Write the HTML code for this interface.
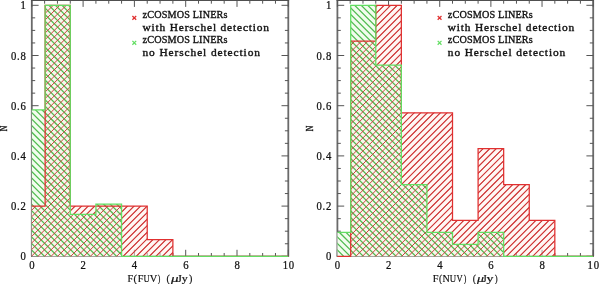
<!DOCTYPE html>
<html><head><meta charset="utf-8"><style>
html,body{margin:0;padding:0;background:#fff;}
svg{display:block;will-change:transform;}
text{font-family:"Liberation Serif",serif;fill:#111;}
.tl{font-size:11.5px;letter-spacing:0.8px;stroke:#111;stroke-width:0.25px;}
.at{font-size:11px;stroke:#111;stroke-width:0.2px;}
.nl{font-size:10.6px;stroke:#111;stroke-width:0.4px;}
.lg{font-size:10.2px;stroke:#111;stroke-width:0.35px;}
</style></head><body>
<svg width="600" height="284" viewBox="0 0 600 284">
<path d="M31.8,0 V256.3 M288.3,0 V256.3" fill="none" stroke="#6a6a6a" stroke-width="1.8"/><path d="M31,0.4 H289.1 M31,256.3 H289.1" fill="none" stroke="#505050" stroke-width="1.1"/>
<path d="M31.8,256.3 v-6.5 M31.8,0.4 v6.5 M44.62,256.3 v-3.3 M44.62,0.4 v3.3 M57.45,256.3 v-3.3 M57.45,0.4 v3.3 M70.27,256.3 v-3.3 M70.27,0.4 v3.3 M83.1,256.3 v-6.5 M83.1,0.4 v6.5 M95.92,256.3 v-3.3 M95.92,0.4 v3.3 M108.75,256.3 v-3.3 M108.75,0.4 v3.3 M121.57,256.3 v-3.3 M121.57,0.4 v3.3 M134.4,256.3 v-6.5 M134.4,0.4 v6.5 M147.22,256.3 v-3.3 M147.22,0.4 v3.3 M160.05,256.3 v-3.3 M160.05,0.4 v3.3 M172.88,256.3 v-3.3 M172.88,0.4 v3.3 M185.7,256.3 v-6.5 M185.7,0.4 v6.5 M198.53,256.3 v-3.3 M198.53,0.4 v3.3 M211.35,256.3 v-3.3 M211.35,0.4 v3.3 M224.18,256.3 v-3.3 M224.18,0.4 v3.3 M237,256.3 v-6.5 M237,0.4 v6.5 M249.82,256.3 v-3.3 M249.82,0.4 v3.3 M262.65,256.3 v-3.3 M262.65,0.4 v3.3 M275.47,256.3 v-3.3 M275.47,0.4 v3.3 M288.3,256.3 v-6.5 M288.3,0.4 v6.5 M31.8,256.3 h6.8 M288.3,256.3 h-6.8 M31.8,243.75 h3.4 M288.3,243.75 h-3.4 M31.8,231.2 h3.4 M288.3,231.2 h-3.4 M31.8,218.65 h3.4 M288.3,218.65 h-3.4 M31.8,206.1 h6.8 M288.3,206.1 h-6.8 M31.8,193.55 h3.4 M288.3,193.55 h-3.4 M31.8,181 h3.4 M288.3,181 h-3.4 M31.8,168.45 h3.4 M288.3,168.45 h-3.4 M31.8,155.9 h6.8 M288.3,155.9 h-6.8 M31.8,143.35 h3.4 M288.3,143.35 h-3.4 M31.8,130.8 h3.4 M288.3,130.8 h-3.4 M31.8,118.25 h3.4 M288.3,118.25 h-3.4 M31.8,105.7 h6.8 M288.3,105.7 h-6.8 M31.8,93.15 h3.4 M288.3,93.15 h-3.4 M31.8,80.6 h3.4 M288.3,80.6 h-3.4 M31.8,68.05 h3.4 M288.3,68.05 h-3.4 M31.8,55.5 h6.8 M288.3,55.5 h-6.8 M31.8,42.95 h3.4 M288.3,42.95 h-3.4 M31.8,30.4 h3.4 M288.3,30.4 h-3.4 M31.8,17.85 h3.4 M288.3,17.85 h-3.4 M31.8,5.3 h6.8 M288.3,5.3 h-6.8" stroke="#555" stroke-width="1" fill="none"/>
<path d="M31.8,256.3 L31.8,109.88 L45.14,109.88 L45.14,5.3 L70.27,5.3 L70.27,214.47 L95.92,214.47 L95.92,204.01 L121.57,204.01 L121.57,256.3 Z" fill="#f2fcee"/>
<path d="M31.8,256.3 L31.8,206.1 L45.14,206.1 L45.14,5.3 L70.27,5.3 L70.27,206.1 L95.92,206.1 L95.92,206.1 L121.57,206.1 L121.57,206.1 L147.22,206.1 L147.22,239.57 L172.88,239.57 L172.88,256.3 Z" fill="#fff0ea" fill-opacity="0.5"/>
<clipPath id="cg0"><path d="M31.8,256.3 L31.8,109.88 L45.14,109.88 L45.14,5.3 L70.27,5.3 L70.27,214.47 L95.92,214.47 L95.92,204.01 L121.57,204.01 L121.57,256.3 Z"/></clipPath>
<clipPath id="cr0"><path d="M31.8,256.3 L31.8,206.1 L45.14,206.1 L45.14,5.3 L70.27,5.3 L70.27,206.1 L95.92,206.1 L95.92,206.1 L121.57,206.1 L121.57,206.1 L147.22,206.1 L147.22,239.57 L172.88,239.57 L172.88,256.3 Z"/></clipPath>
<path clip-path="url(#cg0)" d="M-240.05,-2 L23.95,262 M-233.5,-2 L30.5,262 M-226.95,-2 L37.05,262 M-220.4,-2 L43.6,262 M-213.85,-2 L50.15,262 M-207.3,-2 L56.7,262 M-200.75,-2 L63.25,262 M-194.2,-2 L69.8,262 M-187.65,-2 L76.35,262 M-181.1,-2 L82.9,262 M-174.55,-2 L89.45,262 M-168,-2 L96,262 M-161.45,-2 L102.55,262 M-154.9,-2 L109.1,262 M-148.35,-2 L115.65,262 M-141.8,-2 L122.2,262 M-135.25,-2 L128.75,262 M-128.7,-2 L135.3,262 M-122.15,-2 L141.85,262 M-115.6,-2 L148.4,262 M-109.05,-2 L154.95,262 M-102.5,-2 L161.5,262 M-95.95,-2 L168.05,262 M-89.4,-2 L174.6,262 M-82.85,-2 L181.15,262 M-76.3,-2 L187.7,262 M-69.75,-2 L194.25,262 M-63.2,-2 L200.8,262 M-56.65,-2 L207.35,262 M-50.1,-2 L213.9,262 M-43.55,-2 L220.45,262 M-37,-2 L227,262 M-30.45,-2 L233.55,262 M-23.9,-2 L240.1,262 M-17.35,-2 L246.65,262 M-10.8,-2 L253.2,262 M-4.25,-2 L259.75,262 M2.3,-2 L266.3,262 M8.85,-2 L272.85,262 M15.4,-2 L279.4,262 M21.95,-2 L285.95,262 M28.5,-2 L292.5,262 M35.05,-2 L299.05,262 M41.6,-2 L305.6,262 M48.15,-2 L312.15,262 M54.7,-2 L318.7,262 M61.25,-2 L325.25,262 M67.8,-2 L331.8,262 M74.35,-2 L338.35,262 M80.9,-2 L344.9,262 M87.45,-2 L351.45,262 M94,-2 L358,262 M100.55,-2 L364.55,262 M107.1,-2 L371.1,262 M113.65,-2 L377.65,262 M120.2,-2 L384.2,262 M126.75,-2 L390.75,262 M133.3,-2 L397.3,262 M139.85,-2 L403.85,262 M146.4,-2 L410.4,262 M152.95,-2 L416.95,262 M159.5,-2 L423.5,262 M166.05,-2 L430.05,262 M172.6,-2 L436.6,262 M179.15,-2 L443.15,262 M185.7,-2 L449.7,262 M192.25,-2 L456.25,262 M198.8,-2 L462.8,262 M205.35,-2 L469.35,262 M211.9,-2 L475.9,262 M218.45,-2 L482.45,262 M225,-2 L489,262 M231.55,-2 L495.55,262 M238.1,-2 L502.1,262 M244.65,-2 L508.65,262 M251.2,-2 L515.2,262 M257.75,-2 L521.75,262 M264.3,-2 L528.3,262 M270.85,-2 L534.85,262 M277.4,-2 L541.4,262 M283.95,-2 L547.95,262 M290.5,-2 L554.5,262" stroke="#50bc50" stroke-width="1.25" fill="none"/>
<path clip-path="url(#cr0)" d="M27.75,-2 L-236.25,262 M34.3,-2 L-229.7,262 M40.85,-2 L-223.15,262 M47.4,-2 L-216.6,262 M53.95,-2 L-210.05,262 M60.5,-2 L-203.5,262 M67.05,-2 L-196.95,262 M73.6,-2 L-190.4,262 M80.15,-2 L-183.85,262 M86.7,-2 L-177.3,262 M93.25,-2 L-170.75,262 M99.8,-2 L-164.2,262 M106.35,-2 L-157.65,262 M112.9,-2 L-151.1,262 M119.45,-2 L-144.55,262 M126,-2 L-138,262 M132.55,-2 L-131.45,262 M139.1,-2 L-124.9,262 M145.65,-2 L-118.35,262 M152.2,-2 L-111.8,262 M158.75,-2 L-105.25,262 M165.3,-2 L-98.7,262 M171.85,-2 L-92.15,262 M178.4,-2 L-85.6,262 M184.95,-2 L-79.05,262 M191.5,-2 L-72.5,262 M198.05,-2 L-65.95,262 M204.6,-2 L-59.4,262 M211.15,-2 L-52.85,262 M217.7,-2 L-46.3,262 M224.25,-2 L-39.75,262 M230.8,-2 L-33.2,262 M237.35,-2 L-26.65,262 M243.9,-2 L-20.1,262 M250.45,-2 L-13.55,262 M257,-2 L-7,262 M263.55,-2 L-0.45,262 M270.1,-2 L6.1,262 M276.65,-2 L12.65,262 M283.2,-2 L19.2,262 M289.75,-2 L25.75,262 M296.3,-2 L32.3,262 M302.85,-2 L38.85,262 M309.4,-2 L45.4,262 M315.95,-2 L51.95,262 M322.5,-2 L58.5,262 M329.05,-2 L65.05,262 M335.6,-2 L71.6,262 M342.15,-2 L78.15,262 M348.7,-2 L84.7,262 M355.25,-2 L91.25,262 M361.8,-2 L97.8,262 M368.35,-2 L104.35,262 M374.9,-2 L110.9,262 M381.45,-2 L117.45,262 M388,-2 L124,262 M394.55,-2 L130.55,262 M401.1,-2 L137.1,262 M407.65,-2 L143.65,262 M414.2,-2 L150.2,262 M420.75,-2 L156.75,262 M427.3,-2 L163.3,262 M433.85,-2 L169.85,262 M440.4,-2 L176.4,262 M446.95,-2 L182.95,262 M453.5,-2 L189.5,262 M460.05,-2 L196.05,262 M466.6,-2 L202.6,262 M473.15,-2 L209.15,262 M479.7,-2 L215.7,262 M486.25,-2 L222.25,262 M492.8,-2 L228.8,262 M499.35,-2 L235.35,262 M505.9,-2 L241.9,262 M512.45,-2 L248.45,262 M519,-2 L255,262 M525.55,-2 L261.55,262 M532.1,-2 L268.1,262 M538.65,-2 L274.65,262 M545.2,-2 L281.2,262 M551.75,-2 L287.75,262 M558.3,-2 L294.3,262" stroke="#cc4040" stroke-width="1.0" fill="none"/>
<mask id="mr0" maskUnits="userSpaceOnUse" x="0" y="0" width="600" height="284"><path d="M31.8,256.3 L31.8,206.1 L45.14,206.1 L45.14,5.3 L70.27,5.3 L70.27,206.1 L95.92,206.1 L95.92,206.1 L121.57,206.1 L121.57,206.1 L147.22,206.1 L147.22,239.57 L172.88,239.57 L172.88,256.3 Z" fill="#fff"/><path d="M31.8,256.3 L31.8,109.88 L45.14,109.88 L45.14,5.3 L70.27,5.3 L70.27,214.47 L95.92,214.47 L95.92,204.01 L121.57,204.01 L121.57,256.3 Z" fill="#000"/></mask>
<path mask="url(#mr0)" d="M27.75,-2 L-236.25,262 M34.3,-2 L-229.7,262 M40.85,-2 L-223.15,262 M47.4,-2 L-216.6,262 M53.95,-2 L-210.05,262 M60.5,-2 L-203.5,262 M67.05,-2 L-196.95,262 M73.6,-2 L-190.4,262 M80.15,-2 L-183.85,262 M86.7,-2 L-177.3,262 M93.25,-2 L-170.75,262 M99.8,-2 L-164.2,262 M106.35,-2 L-157.65,262 M112.9,-2 L-151.1,262 M119.45,-2 L-144.55,262 M126,-2 L-138,262 M132.55,-2 L-131.45,262 M139.1,-2 L-124.9,262 M145.65,-2 L-118.35,262 M152.2,-2 L-111.8,262 M158.75,-2 L-105.25,262 M165.3,-2 L-98.7,262 M171.85,-2 L-92.15,262 M178.4,-2 L-85.6,262 M184.95,-2 L-79.05,262 M191.5,-2 L-72.5,262 M198.05,-2 L-65.95,262 M204.6,-2 L-59.4,262 M211.15,-2 L-52.85,262 M217.7,-2 L-46.3,262 M224.25,-2 L-39.75,262 M230.8,-2 L-33.2,262 M237.35,-2 L-26.65,262 M243.9,-2 L-20.1,262 M250.45,-2 L-13.55,262 M257,-2 L-7,262 M263.55,-2 L-0.45,262 M270.1,-2 L6.1,262 M276.65,-2 L12.65,262 M283.2,-2 L19.2,262 M289.75,-2 L25.75,262 M296.3,-2 L32.3,262 M302.85,-2 L38.85,262 M309.4,-2 L45.4,262 M315.95,-2 L51.95,262 M322.5,-2 L58.5,262 M329.05,-2 L65.05,262 M335.6,-2 L71.6,262 M342.15,-2 L78.15,262 M348.7,-2 L84.7,262 M355.25,-2 L91.25,262 M361.8,-2 L97.8,262 M368.35,-2 L104.35,262 M374.9,-2 L110.9,262 M381.45,-2 L117.45,262 M388,-2 L124,262 M394.55,-2 L130.55,262 M401.1,-2 L137.1,262 M407.65,-2 L143.65,262 M414.2,-2 L150.2,262 M420.75,-2 L156.75,262 M427.3,-2 L163.3,262 M433.85,-2 L169.85,262 M440.4,-2 L176.4,262 M446.95,-2 L182.95,262 M453.5,-2 L189.5,262 M460.05,-2 L196.05,262 M466.6,-2 L202.6,262 M473.15,-2 L209.15,262 M479.7,-2 L215.7,262 M486.25,-2 L222.25,262 M492.8,-2 L228.8,262 M499.35,-2 L235.35,262 M505.9,-2 L241.9,262 M512.45,-2 L248.45,262 M519,-2 L255,262 M525.55,-2 L261.55,262 M532.1,-2 L268.1,262 M538.65,-2 L274.65,262 M545.2,-2 L281.2,262 M551.75,-2 L287.75,262 M558.3,-2 L294.3,262" stroke="#d03a3a" stroke-width="1.1" fill="none"/>
<path d="M31.8,206.1 L45.14,206.1 L45.14,5.3 L70.27,5.3 L70.27,206.1 L95.92,206.1 L95.92,206.1 L121.57,206.1 L121.57,206.1 L147.22,206.1 L147.22,239.57 L172.88,239.57 L172.88,256.3 L288.3,256.3" fill="none" stroke="#e03030" stroke-width="1.25"/>
<path d="M31.8,109.88 L45.14,109.88 L45.14,5.3 L70.27,5.3 L70.27,214.47 L95.92,214.47 L95.92,204.01 L121.57,204.01 L121.57,256.3 L288.3,256.3" fill="none" stroke="#62de62" stroke-width="1.25"/>
<text class="tl" transform="translate(32.3,268.7) scale(0.93,1)" text-anchor="middle">0</text>
<text class="tl" transform="translate(83.6,268.7) scale(0.93,1)" text-anchor="middle">2</text>
<text class="tl" transform="translate(134.9,268.7) scale(0.93,1)" text-anchor="middle">4</text>
<text class="tl" transform="translate(186.2,268.7) scale(0.93,1)" text-anchor="middle">6</text>
<text class="tl" transform="translate(237.5,268.7) scale(0.93,1)" text-anchor="middle">8</text>
<text class="tl" transform="translate(288.8,268.7) scale(0.93,1)" text-anchor="middle">10</text>
<text class="tl" transform="translate(26.5,260.4) scale(0.93,1)" text-anchor="end">0</text>
<text class="tl" transform="translate(26.5,210.2) scale(0.93,1)" text-anchor="end">0.2</text>
<text class="tl" transform="translate(26.5,160) scale(0.93,1)" text-anchor="end">0.4</text>
<text class="tl" transform="translate(26.5,109.8) scale(0.93,1)" text-anchor="end">0.6</text>
<text class="tl" transform="translate(26.5,59.6) scale(0.93,1)" text-anchor="end">0.8</text>
<text class="tl" transform="translate(26.5,9.4) scale(0.93,1)" text-anchor="end">1</text>
<text class="at" transform="translate(127.60,281.8) scale(0.926,1)">F</text>
<text class="at" transform="translate(133.54,281.8) scale(0.955,1)">(</text>
<text class="at" transform="translate(137.80,281.8) scale(0.926,1)">F</text>
<text class="at" transform="translate(143.52,281.8) scale(0.775,1)">U</text>
<text class="at" transform="translate(149.69,281.8) scale(0.948,1)">V</text>
<text class="at" transform="translate(157.75,281.8) scale(0.707,1)">)</text>
<text class="at" transform="translate(166.55,281.8) scale(0.920,1)">(</text>
<text class="at" font-style="italic" transform="translate(171.11,281.8) scale(1.354,1)">μ</text>
<text class="at" transform="translate(177.25,281.8) scale(1.074,1)">J</text>
<text class="at" transform="translate(181.76,281.8) scale(1.089,1)">y</text>
<text class="at" transform="translate(188.88,281.8) scale(0.920,1)">)</text>
<text class="nl" transform="translate(7,128.4) rotate(-90) scale(0.72,1)" text-anchor="middle">N</text>
<text class="lg" transform="translate(142.5,18.3) scale(1.0,1)" textLength="85.00" lengthAdjust="spacing">zCOSMOS LINERs</text>
<text class="lg" transform="translate(142.5,30.6) scale(1.12,1)" textLength="112.95" lengthAdjust="spacing">with Herschel detection</text>
<text class="lg" transform="translate(142.5,43.4) scale(1.0,1)" textLength="85.00" lengthAdjust="spacing">zCOSMOS LINERs</text>
<text class="lg" transform="translate(142.5,56.0) scale(1.12,1)" textLength="104.91" lengthAdjust="spacing">no Herschel detection</text>
<path d="M132.4,16 l3.8,3.8 m0,-3.8 l-3.8,3.8" stroke="#e03030" stroke-width="1.25"/>
<path d="M132.4,40.9 l3.8,3.8 m0,-3.8 l-3.8,3.8" stroke="#62de62" stroke-width="1.25"/>
<path d="M337.4,0 V256.3 M593.2,0 V256.3" fill="none" stroke="#6a6a6a" stroke-width="1.8"/><path d="M336.6,0.4 H594 M336.6,256.3 H594" fill="none" stroke="#505050" stroke-width="1.1"/>
<path d="M337.4,256.3 v-6.5 M337.4,0.4 v6.5 M350.19,256.3 v-3.3 M350.19,0.4 v3.3 M362.98,256.3 v-3.3 M362.98,0.4 v3.3 M375.77,256.3 v-3.3 M375.77,0.4 v3.3 M388.56,256.3 v-6.5 M388.56,0.4 v6.5 M401.35,256.3 v-3.3 M401.35,0.4 v3.3 M414.14,256.3 v-3.3 M414.14,0.4 v3.3 M426.93,256.3 v-3.3 M426.93,0.4 v3.3 M439.72,256.3 v-6.5 M439.72,0.4 v6.5 M452.51,256.3 v-3.3 M452.51,0.4 v3.3 M465.3,256.3 v-3.3 M465.3,0.4 v3.3 M478.09,256.3 v-3.3 M478.09,0.4 v3.3 M490.88,256.3 v-6.5 M490.88,0.4 v6.5 M503.67,256.3 v-3.3 M503.67,0.4 v3.3 M516.46,256.3 v-3.3 M516.46,0.4 v3.3 M529.25,256.3 v-3.3 M529.25,0.4 v3.3 M542.04,256.3 v-6.5 M542.04,0.4 v6.5 M554.83,256.3 v-3.3 M554.83,0.4 v3.3 M567.62,256.3 v-3.3 M567.62,0.4 v3.3 M580.41,256.3 v-3.3 M580.41,0.4 v3.3 M593.2,256.3 v-6.5 M593.2,0.4 v6.5 M337.4,256.3 h6.8 M593.2,256.3 h-6.8 M337.4,243.75 h3.4 M593.2,243.75 h-3.4 M337.4,231.2 h3.4 M593.2,231.2 h-3.4 M337.4,218.65 h3.4 M593.2,218.65 h-3.4 M337.4,206.1 h6.8 M593.2,206.1 h-6.8 M337.4,193.55 h3.4 M593.2,193.55 h-3.4 M337.4,181 h3.4 M593.2,181 h-3.4 M337.4,168.45 h3.4 M593.2,168.45 h-3.4 M337.4,155.9 h6.8 M593.2,155.9 h-6.8 M337.4,143.35 h3.4 M593.2,143.35 h-3.4 M337.4,130.8 h3.4 M593.2,130.8 h-3.4 M337.4,118.25 h3.4 M593.2,118.25 h-3.4 M337.4,105.7 h6.8 M593.2,105.7 h-6.8 M337.4,93.15 h3.4 M593.2,93.15 h-3.4 M337.4,80.6 h3.4 M593.2,80.6 h-3.4 M337.4,68.05 h3.4 M593.2,68.05 h-3.4 M337.4,55.5 h6.8 M593.2,55.5 h-6.8 M337.4,42.95 h3.4 M593.2,42.95 h-3.4 M337.4,30.4 h3.4 M593.2,30.4 h-3.4 M337.4,17.85 h3.4 M593.2,17.85 h-3.4 M337.4,5.3 h6.8 M593.2,5.3 h-6.8" stroke="#555" stroke-width="1" fill="none"/>
<path d="M337.4,256.3 L337.4,232.4 L350.7,232.4 L350.7,5.3 L375.77,5.3 L375.77,65.06 L401.35,65.06 L401.35,184.59 L426.93,184.59 L426.93,232.4 L452.51,232.4 L452.51,244.35 L478.09,244.35 L478.09,232.4 L503.67,232.4 L503.67,256.3 Z" fill="#f2fcee"/>
<path d="M337.4,256.3 L337.4,256.3 L350.7,256.3 L350.7,41.16 L375.77,41.16 L375.77,5.3 L401.35,5.3 L401.35,112.87 L426.93,112.87 L426.93,112.87 L452.51,112.87 L452.51,220.44 L478.09,220.44 L478.09,148.73 L503.67,148.73 L503.67,184.59 L529.25,184.59 L529.25,220.44 L554.83,220.44 L554.83,256.3 Z" fill="#fff0ea" fill-opacity="0.5"/>
<clipPath id="cg1"><path d="M337.4,256.3 L337.4,232.4 L350.7,232.4 L350.7,5.3 L375.77,5.3 L375.77,65.06 L401.35,65.06 L401.35,184.59 L426.93,184.59 L426.93,232.4 L452.51,232.4 L452.51,244.35 L478.09,244.35 L478.09,232.4 L503.67,232.4 L503.67,256.3 Z"/></clipPath>
<clipPath id="cr1"><path d="M337.4,256.3 L337.4,256.3 L350.7,256.3 L350.7,41.16 L375.77,41.16 L375.77,5.3 L401.35,5.3 L401.35,112.87 L426.93,112.87 L426.93,112.87 L452.51,112.87 L452.51,220.44 L478.09,220.44 L478.09,148.73 L503.67,148.73 L503.67,184.59 L529.25,184.59 L529.25,220.44 L554.83,220.44 L554.83,256.3 Z"/></clipPath>
<path clip-path="url(#cg1)" d="M65.7,-2 L329.7,262 M72.25,-2 L336.25,262 M78.8,-2 L342.8,262 M85.35,-2 L349.35,262 M91.9,-2 L355.9,262 M98.45,-2 L362.45,262 M105,-2 L369,262 M111.55,-2 L375.55,262 M118.1,-2 L382.1,262 M124.65,-2 L388.65,262 M131.2,-2 L395.2,262 M137.75,-2 L401.75,262 M144.3,-2 L408.3,262 M150.85,-2 L414.85,262 M157.4,-2 L421.4,262 M163.95,-2 L427.95,262 M170.5,-2 L434.5,262 M177.05,-2 L441.05,262 M183.6,-2 L447.6,262 M190.15,-2 L454.15,262 M196.7,-2 L460.7,262 M203.25,-2 L467.25,262 M209.8,-2 L473.8,262 M216.35,-2 L480.35,262 M222.9,-2 L486.9,262 M229.45,-2 L493.45,262 M236,-2 L500,262 M242.55,-2 L506.55,262 M249.1,-2 L513.1,262 M255.65,-2 L519.65,262 M262.2,-2 L526.2,262 M268.75,-2 L532.75,262 M275.3,-2 L539.3,262 M281.85,-2 L545.85,262 M288.4,-2 L552.4,262 M294.95,-2 L558.95,262 M301.5,-2 L565.5,262 M308.05,-2 L572.05,262 M314.6,-2 L578.6,262 M321.15,-2 L585.15,262 M327.7,-2 L591.7,262 M334.25,-2 L598.25,262 M340.8,-2 L604.8,262 M347.35,-2 L611.35,262 M353.9,-2 L617.9,262 M360.45,-2 L624.45,262 M367,-2 L631,262 M373.55,-2 L637.55,262 M380.1,-2 L644.1,262 M386.65,-2 L650.65,262 M393.2,-2 L657.2,262 M399.75,-2 L663.75,262 M406.3,-2 L670.3,262 M412.85,-2 L676.85,262 M419.4,-2 L683.4,262 M425.95,-2 L689.95,262 M432.5,-2 L696.5,262 M439.05,-2 L703.05,262 M445.6,-2 L709.6,262 M452.15,-2 L716.15,262 M458.7,-2 L722.7,262 M465.25,-2 L729.25,262 M471.8,-2 L735.8,262 M478.35,-2 L742.35,262 M484.9,-2 L748.9,262 M491.45,-2 L755.45,262 M498,-2 L762,262 M504.55,-2 L768.55,262 M511.1,-2 L775.1,262 M517.65,-2 L781.65,262 M524.2,-2 L788.2,262 M530.75,-2 L794.75,262 M537.3,-2 L801.3,262 M543.85,-2 L807.85,262 M550.4,-2 L814.4,262 M556.95,-2 L820.95,262 M563.5,-2 L827.5,262 M570.05,-2 L834.05,262 M576.6,-2 L840.6,262 M583.15,-2 L847.15,262 M589.7,-2 L853.7,262 M596.25,-2 L860.25,262" stroke="#50bc50" stroke-width="1.25" fill="none"/>
<path clip-path="url(#cr1)" d="M332.5,-2 L68.5,262 M339.05,-2 L75.05,262 M345.6,-2 L81.6,262 M352.15,-2 L88.15,262 M358.7,-2 L94.7,262 M365.25,-2 L101.25,262 M371.8,-2 L107.8,262 M378.35,-2 L114.35,262 M384.9,-2 L120.9,262 M391.45,-2 L127.45,262 M398,-2 L134,262 M404.55,-2 L140.55,262 M411.1,-2 L147.1,262 M417.65,-2 L153.65,262 M424.2,-2 L160.2,262 M430.75,-2 L166.75,262 M437.3,-2 L173.3,262 M443.85,-2 L179.85,262 M450.4,-2 L186.4,262 M456.95,-2 L192.95,262 M463.5,-2 L199.5,262 M470.05,-2 L206.05,262 M476.6,-2 L212.6,262 M483.15,-2 L219.15,262 M489.7,-2 L225.7,262 M496.25,-2 L232.25,262 M502.8,-2 L238.8,262 M509.35,-2 L245.35,262 M515.9,-2 L251.9,262 M522.45,-2 L258.45,262 M529,-2 L265,262 M535.55,-2 L271.55,262 M542.1,-2 L278.1,262 M548.65,-2 L284.65,262 M555.2,-2 L291.2,262 M561.75,-2 L297.75,262 M568.3,-2 L304.3,262 M574.85,-2 L310.85,262 M581.4,-2 L317.4,262 M587.95,-2 L323.95,262 M594.5,-2 L330.5,262 M601.05,-2 L337.05,262 M607.6,-2 L343.6,262 M614.15,-2 L350.15,262 M620.7,-2 L356.7,262 M627.25,-2 L363.25,262 M633.8,-2 L369.8,262 M640.35,-2 L376.35,262 M646.9,-2 L382.9,262 M653.45,-2 L389.45,262 M660,-2 L396,262 M666.55,-2 L402.55,262 M673.1,-2 L409.1,262 M679.65,-2 L415.65,262 M686.2,-2 L422.2,262 M692.75,-2 L428.75,262 M699.3,-2 L435.3,262 M705.85,-2 L441.85,262 M712.4,-2 L448.4,262 M718.95,-2 L454.95,262 M725.5,-2 L461.5,262 M732.05,-2 L468.05,262 M738.6,-2 L474.6,262 M745.15,-2 L481.15,262 M751.7,-2 L487.7,262 M758.25,-2 L494.25,262 M764.8,-2 L500.8,262 M771.35,-2 L507.35,262 M777.9,-2 L513.9,262 M784.45,-2 L520.45,262 M791,-2 L527,262 M797.55,-2 L533.55,262 M804.1,-2 L540.1,262 M810.65,-2 L546.65,262 M817.2,-2 L553.2,262 M823.75,-2 L559.75,262 M830.3,-2 L566.3,262 M836.85,-2 L572.85,262 M843.4,-2 L579.4,262 M849.95,-2 L585.95,262 M856.5,-2 L592.5,262 M863.05,-2 L599.05,262" stroke="#cc4040" stroke-width="1.0" fill="none"/>
<mask id="mr1" maskUnits="userSpaceOnUse" x="0" y="0" width="600" height="284"><path d="M337.4,256.3 L337.4,256.3 L350.7,256.3 L350.7,41.16 L375.77,41.16 L375.77,5.3 L401.35,5.3 L401.35,112.87 L426.93,112.87 L426.93,112.87 L452.51,112.87 L452.51,220.44 L478.09,220.44 L478.09,148.73 L503.67,148.73 L503.67,184.59 L529.25,184.59 L529.25,220.44 L554.83,220.44 L554.83,256.3 Z" fill="#fff"/><path d="M337.4,256.3 L337.4,232.4 L350.7,232.4 L350.7,5.3 L375.77,5.3 L375.77,65.06 L401.35,65.06 L401.35,184.59 L426.93,184.59 L426.93,232.4 L452.51,232.4 L452.51,244.35 L478.09,244.35 L478.09,232.4 L503.67,232.4 L503.67,256.3 Z" fill="#000"/></mask>
<path mask="url(#mr1)" d="M332.5,-2 L68.5,262 M339.05,-2 L75.05,262 M345.6,-2 L81.6,262 M352.15,-2 L88.15,262 M358.7,-2 L94.7,262 M365.25,-2 L101.25,262 M371.8,-2 L107.8,262 M378.35,-2 L114.35,262 M384.9,-2 L120.9,262 M391.45,-2 L127.45,262 M398,-2 L134,262 M404.55,-2 L140.55,262 M411.1,-2 L147.1,262 M417.65,-2 L153.65,262 M424.2,-2 L160.2,262 M430.75,-2 L166.75,262 M437.3,-2 L173.3,262 M443.85,-2 L179.85,262 M450.4,-2 L186.4,262 M456.95,-2 L192.95,262 M463.5,-2 L199.5,262 M470.05,-2 L206.05,262 M476.6,-2 L212.6,262 M483.15,-2 L219.15,262 M489.7,-2 L225.7,262 M496.25,-2 L232.25,262 M502.8,-2 L238.8,262 M509.35,-2 L245.35,262 M515.9,-2 L251.9,262 M522.45,-2 L258.45,262 M529,-2 L265,262 M535.55,-2 L271.55,262 M542.1,-2 L278.1,262 M548.65,-2 L284.65,262 M555.2,-2 L291.2,262 M561.75,-2 L297.75,262 M568.3,-2 L304.3,262 M574.85,-2 L310.85,262 M581.4,-2 L317.4,262 M587.95,-2 L323.95,262 M594.5,-2 L330.5,262 M601.05,-2 L337.05,262 M607.6,-2 L343.6,262 M614.15,-2 L350.15,262 M620.7,-2 L356.7,262 M627.25,-2 L363.25,262 M633.8,-2 L369.8,262 M640.35,-2 L376.35,262 M646.9,-2 L382.9,262 M653.45,-2 L389.45,262 M660,-2 L396,262 M666.55,-2 L402.55,262 M673.1,-2 L409.1,262 M679.65,-2 L415.65,262 M686.2,-2 L422.2,262 M692.75,-2 L428.75,262 M699.3,-2 L435.3,262 M705.85,-2 L441.85,262 M712.4,-2 L448.4,262 M718.95,-2 L454.95,262 M725.5,-2 L461.5,262 M732.05,-2 L468.05,262 M738.6,-2 L474.6,262 M745.15,-2 L481.15,262 M751.7,-2 L487.7,262 M758.25,-2 L494.25,262 M764.8,-2 L500.8,262 M771.35,-2 L507.35,262 M777.9,-2 L513.9,262 M784.45,-2 L520.45,262 M791,-2 L527,262 M797.55,-2 L533.55,262 M804.1,-2 L540.1,262 M810.65,-2 L546.65,262 M817.2,-2 L553.2,262 M823.75,-2 L559.75,262 M830.3,-2 L566.3,262 M836.85,-2 L572.85,262 M843.4,-2 L579.4,262 M849.95,-2 L585.95,262 M856.5,-2 L592.5,262 M863.05,-2 L599.05,262" stroke="#d03a3a" stroke-width="1.1" fill="none"/>
<path d="M337.4,256.3 L350.7,256.3 L350.7,41.16 L375.77,41.16 L375.77,5.3 L401.35,5.3 L401.35,112.87 L426.93,112.87 L426.93,112.87 L452.51,112.87 L452.51,220.44 L478.09,220.44 L478.09,148.73 L503.67,148.73 L503.67,184.59 L529.25,184.59 L529.25,220.44 L554.83,220.44 L554.83,256.3 L593.2,256.3" fill="none" stroke="#e03030" stroke-width="1.25"/>
<path d="M337.4,232.4 L350.7,232.4 L350.7,5.3 L375.77,5.3 L375.77,65.06 L401.35,65.06 L401.35,184.59 L426.93,184.59 L426.93,232.4 L452.51,232.4 L452.51,244.35 L478.09,244.35 L478.09,232.4 L503.67,232.4 L503.67,256.3 L593.2,256.3" fill="none" stroke="#62de62" stroke-width="1.25"/>
<text class="tl" transform="translate(337.9,268.7) scale(0.93,1)" text-anchor="middle">0</text>
<text class="tl" transform="translate(389.06,268.7) scale(0.93,1)" text-anchor="middle">2</text>
<text class="tl" transform="translate(440.22,268.7) scale(0.93,1)" text-anchor="middle">4</text>
<text class="tl" transform="translate(491.38,268.7) scale(0.93,1)" text-anchor="middle">6</text>
<text class="tl" transform="translate(542.54,268.7) scale(0.93,1)" text-anchor="middle">8</text>
<text class="tl" transform="translate(593.7,268.7) scale(0.93,1)" text-anchor="middle">10</text>
<text class="tl" transform="translate(332.1,260.4) scale(0.93,1)" text-anchor="end">0</text>
<text class="tl" transform="translate(332.1,210.2) scale(0.93,1)" text-anchor="end">0.2</text>
<text class="tl" transform="translate(332.1,160) scale(0.93,1)" text-anchor="end">0.4</text>
<text class="tl" transform="translate(332.1,109.8) scale(0.93,1)" text-anchor="end">0.6</text>
<text class="tl" transform="translate(332.1,59.6) scale(0.93,1)" text-anchor="end">0.8</text>
<text class="tl" transform="translate(332.1,9.4) scale(0.93,1)" text-anchor="end">1</text>
<text class="at" transform="translate(432.70,281.8) scale(0.944,1)">F</text>
<text class="at" transform="translate(438.99,281.8) scale(0.849,1)">(</text>
<text class="at" transform="translate(442.46,281.8) scale(0.916,1)">N</text>
<text class="at" transform="translate(449.81,281.8) scale(0.802,1)">U</text>
<text class="at" transform="translate(456.41,281.8) scale(0.779,1)">V</text>
<text class="at" transform="translate(463.75,281.8) scale(0.707,1)">)</text>
<text class="at" transform="translate(472.82,281.8) scale(0.884,1)">(</text>
<text class="at" font-style="italic" transform="translate(477.01,281.8) scale(1.257,1)">μ</text>
<text class="at" transform="translate(482.52,281.8) scale(0.982,1)">J</text>
<text class="at" transform="translate(486.58,281.8) scale(1.268,1)">y</text>
<text class="at" transform="translate(494.72,281.8) scale(0.796,1)">)</text>
<text class="nl" transform="translate(312.6,128.4) rotate(-90) scale(0.72,1)" text-anchor="middle">N</text>
<text class="lg" transform="translate(447.79,18.3) scale(1.0,1)" textLength="85.00" lengthAdjust="spacing">zCOSMOS LINERs</text>
<text class="lg" transform="translate(447.79,30.6) scale(1.12,1)" textLength="112.95" lengthAdjust="spacing">with Herschel detection</text>
<text class="lg" transform="translate(447.79,43.4) scale(1.0,1)" textLength="85.00" lengthAdjust="spacing">zCOSMOS LINERs</text>
<text class="lg" transform="translate(447.79,56.0) scale(1.12,1)" textLength="104.91" lengthAdjust="spacing">no Herschel detection</text>
<path d="M437.69,16 l3.8,3.8 m0,-3.8 l-3.8,3.8" stroke="#e03030" stroke-width="1.25"/>
<path d="M437.69,40.9 l3.8,3.8 m0,-3.8 l-3.8,3.8" stroke="#62de62" stroke-width="1.25"/>
</svg>
</body></html>
